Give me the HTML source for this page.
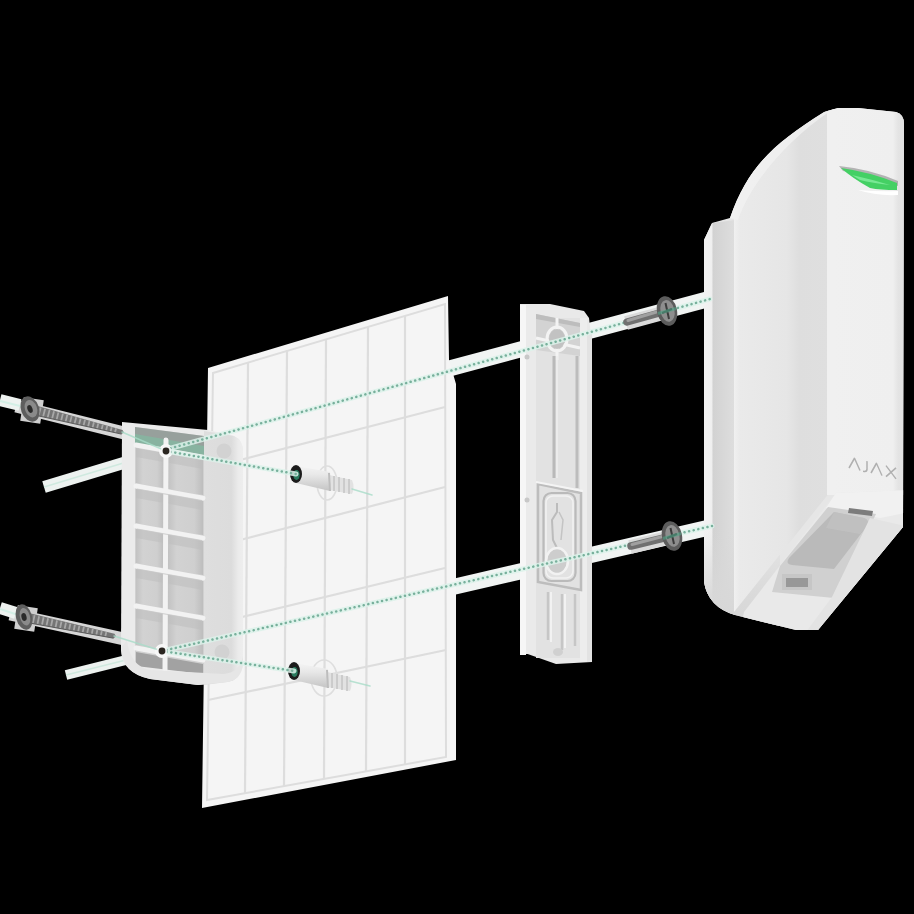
<!DOCTYPE html>
<html><head><meta charset="utf-8"><title>Mount</title>
<style>
html,body{margin:0;padding:0;background:#000;width:914px;height:914px;overflow:hidden;font-family:"Liberation Sans",sans-serif;}
svg{display:block}
</style></head>
<body>
<svg width="914" height="914" viewBox="0 0 914 914">
<defs>
  <linearGradient id="gSide" gradientUnits="userSpaceOnUse" x1="204" y1="0" x2="243" y2="0">
    <stop offset="0" stop-color="#dedede"/>
    <stop offset="0.7" stop-color="#dcdcdc"/>
    <stop offset="0.88" stop-color="#ebebeb"/>
    <stop offset="1" stop-color="#eeeeee"/>
  </linearGradient>
  <linearGradient id="gBody" gradientUnits="userSpaceOnUse" x1="734" y1="0" x2="830" y2="0">
    <stop offset="0" stop-color="#f0f0f0"/>
    <stop offset="0.06" stop-color="#eaeaea"/>
    <stop offset="0.55" stop-color="#e6e6e6"/>
    <stop offset="0.68" stop-color="#dedede"/>
    <stop offset="1" stop-color="#dfdfdf"/>
  </linearGradient>
  <linearGradient id="gFront" gradientUnits="userSpaceOnUse" x1="830" y1="0" x2="904" y2="0">
    <stop offset="0" stop-color="#f0f0f0"/>
    <stop offset="0.85" stop-color="#efefef"/>
    <stop offset="0.92" stop-color="#e4e4e4"/>
    <stop offset="1" stop-color="#e2e2e2"/>
  </linearGradient>
  <linearGradient id="gBack" gradientUnits="userSpaceOnUse" x1="704" y1="0" x2="735" y2="0">
    <stop offset="0" stop-color="#f2f2f2"/>
    <stop offset="0.24" stop-color="#f0f0f0"/>
    <stop offset="0.3" stop-color="#d2d2d2"/>
    <stop offset="1" stop-color="#dedede"/>
  </linearGradient>
  <linearGradient id="gCell" x1="0" y1="0" x2="1" y2="0">
    <stop offset="0" stop-color="#c2c2c2"/>
    <stop offset="0.25" stop-color="#d2d2d2"/>
    <stop offset="0.75" stop-color="#cfcfcf"/>
    <stop offset="1" stop-color="#bdbdbd"/>
  </linearGradient>
  <linearGradient id="gDowel" x1="0" y1="0" x2="0" y2="1">
    <stop offset="0" stop-color="#f4f4f4"/>
    <stop offset="0.35" stop-color="#e8e8e8"/>
    <stop offset="1" stop-color="#c4c4c4"/>
  </linearGradient>
  <linearGradient id="gBotL" x1="0" y1="0" x2="0" y2="1">
    <stop offset="0" stop-color="#d8d8d8" stop-opacity="0"/>
    <stop offset="0.6" stop-color="#d8d8d8" stop-opacity="0.9"/>
    <stop offset="1" stop-color="#d6d6d6" stop-opacity="1"/>
  </linearGradient>
  <linearGradient id="gScrew" x1="0" y1="0" x2="0" y2="1">
    <stop offset="0" stop-color="#9a9a9a"/>
    <stop offset="0.5" stop-color="#c8c8c8"/>
    <stop offset="1" stop-color="#707070"/>
  </linearGradient>
</defs>

<rect width="914" height="914" fill="#000"/>

<!-- ============ HALOS (behind) ============ -->
<g id="halos" stroke-linecap="butt" fill="none">
  <g stroke="#f1f4f3" stroke-width="16">
    <line x1="440" y1="371" x2="720" y2="296"/>
    <line x1="440" y1="590" x2="720" y2="525"/>
  </g>
  <g stroke="#dadada" stroke-width="14">
    <line x1="626" y1="323" x2="674" y2="310"/>
    <line x1="630" y1="547" x2="679" y2="535"/>
  </g>
  <g stroke="#d6d6d6" stroke-width="13">
    <line x1="16" y1="406" x2="128" y2="434"/>
    <line x1="10" y1="614" x2="124" y2="639"/>
  </g>
  <g stroke="#cfcfcf" stroke-width="24">
    <line x1="22" y1="409" x2="42" y2="412"/>
    <line x1="16" y1="617" x2="36" y2="620"/>
  </g>
  <g stroke="#eef2f0" stroke-width="12">
    <line x1="0" y1="400" x2="20" y2="405"/>
    <line x1="0" y1="608" x2="16" y2="613"/>
  </g>
  <g stroke="#d4efe6" stroke-width="2">
    <line x1="0" y1="401" x2="24" y2="407"/>
    <line x1="0" y1="609" x2="18" y2="615"/>
  </g>
  <g stroke="#edf2f0" stroke-width="12">
    <line x1="44" y1="487" x2="130" y2="461"/>
  </g>
  <g stroke="#edf2f0" stroke-width="10">
    <line x1="66" y1="675" x2="126" y2="660"/>
  </g>
  <g stroke="#cfe9df" stroke-width="1.5">
    <line x1="44" y1="487" x2="130" y2="461"/>
    <line x1="66" y1="675" x2="126" y2="660"/>
  </g>
</g>

<!-- ============ TILE PANEL ============ -->
<g id="tile">
  <polygon points="208,368 448,296 449,360 456,384 456,760 202,808" fill="#f5f5f5"/>
  <polygon points="213,373 445,304 446,757 207,800" fill="none" stroke="#dddddd" stroke-width="2"/>
  <g stroke="#dddddd" stroke-width="2.2" fill="none">
    <line x1="248" y1="362" x2="245" y2="793"/>
    <line x1="287" y1="350" x2="284" y2="786"/>
    <line x1="326" y1="339" x2="324" y2="779"/>
    <line x1="368" y1="327" x2="366" y2="771"/>
    <line x1="405" y1="316" x2="405" y2="764"/>
    <line x1="213" y1="467" x2="445" y2="407"/>
    <line x1="213" y1="547" x2="445" y2="487"/>
    <line x1="213" y1="624" x2="445" y2="568"/>
    <line x1="208" y1="700" x2="446" y2="650"/>
  </g>
</g>

<!-- ============ LEFT BRACKET ============ -->
<g id="bracket">
  <path d="M122,422 L208,430 L234,436 Q243,440 243,452 L243,664 Q241,680 227,682 L198,685 L150,679 Q122,673 121,650 Z" fill="#ebebeb"/>
  <!-- side face -->
  <path d="M204,431 L234,436 Q243,440 243,452 L243,664 Q241,680 227,682 L204,685 Z" fill="url(#gSide)"/>
  <!-- recess -->
  <path d="M135,427 L204,436 L204,674 L135,664 Z" fill="#d0d0d0"/>
  <path d="M135,427 L204,436 L204,460 L135,446 Z" fill="#97a09c"/>
  <path d="M135,434 L204,446 L204,456 L135,444 Z" fill="#7fbfa4" opacity="0.6"/>
  <path d="M136,448.0 L164,453.0 L164,488.0 L136,483.0 Z" fill="url(#gCell)"/>
  <path d="M136,448.0 L164,453.0 L164,462.0 L136,457.0 Z" fill="#bdbdbd" opacity="0.55"/>
  <path d="M168,453.8 L203,460.1 L203,495.1 L168,488.8 Z" fill="url(#gCell)"/>
  <path d="M168,453.8 L203,460.1 L203,469.1 L168,462.8 Z" fill="#bdbdbd" opacity="0.55"/>
  <path d="M136,489.0 L164,494.0 L164,528.0 L136,523.0 Z" fill="url(#gCell)"/>
  <path d="M136,489.0 L164,494.0 L164,503.0 L136,498.0 Z" fill="#bdbdbd" opacity="0.55"/>
  <path d="M168,494.8 L203,501.1 L203,535.1 L168,528.8 Z" fill="url(#gCell)"/>
  <path d="M168,494.8 L203,501.1 L203,510.1 L168,503.8 Z" fill="#bdbdbd" opacity="0.55"/>
  <path d="M136,529.0 L164,534.0 L164,568.0 L136,563.0 Z" fill="url(#gCell)"/>
  <path d="M136,529.0 L164,534.0 L164,543.0 L136,538.0 Z" fill="#bdbdbd" opacity="0.55"/>
  <path d="M168,534.8 L203,541.1 L203,575.1 L168,568.8 Z" fill="url(#gCell)"/>
  <path d="M168,534.8 L203,541.1 L203,550.1 L168,543.8 Z" fill="#bdbdbd" opacity="0.55"/>
  <path d="M136,569.0 L164,574.0 L164,608.0 L136,603.0 Z" fill="url(#gCell)"/>
  <path d="M136,569.0 L164,574.0 L164,583.0 L136,578.0 Z" fill="#bdbdbd" opacity="0.55"/>
  <path d="M168,574.8 L203,581.1 L203,615.1 L168,608.8 Z" fill="url(#gCell)"/>
  <path d="M168,574.8 L203,581.1 L203,590.1 L168,583.8 Z" fill="#bdbdbd" opacity="0.55"/>
  <path d="M136,609.0 L164,614.0 L164,650.0 L136,645.0 Z" fill="url(#gCell)"/>
  <path d="M136,609.0 L164,614.0 L164,623.0 L136,618.0 Z" fill="#bdbdbd" opacity="0.55"/>
  <path d="M168,614.8 L203,621.1 L203,657.1 L168,650.8 Z" fill="url(#gCell)"/>
  <path d="M168,614.8 L203,621.1 L203,630.1 L168,623.8 Z" fill="#bdbdbd" opacity="0.55"/>
  <path d="M136,652 L203,664 L203,674 L136,666 Z" fill="#a2a2a2"/>
  <g stroke="#f2f2f2" stroke-width="5" stroke-linecap="round" fill="none">
    <line x1="136" y1="445" x2="203" y2="457.1"/>
    <line x1="136" y1="486" x2="203" y2="498.1"/>
    <line x1="136" y1="526" x2="203" y2="538.1"/>
    <line x1="136" y1="566" x2="203" y2="578.1"/>
    <line x1="136" y1="606" x2="203" y2="618.1"/>
    <line x1="136" y1="648" x2="203" y2="660.1"/>
    <line x1="166" y1="440" x2="165" y2="670"/>
  </g>
  <g stroke="#c6c6c6" stroke-width="1.2" fill="none" opacity="0.7">
    <line x1="137" y1="489" x2="202" y2="500.7"/>
    <line x1="137" y1="529" x2="202" y2="540.7"/>
    <line x1="137" y1="569" x2="202" y2="580.7"/>
    <line x1="137" y1="609" x2="202" y2="620.7"/>
  </g>
  <path d="M121,648 Q122,673 150,679 L198,685 L227,682 Q241,680 243,664 L243,656 Q240,672 224,674 L150,670 Q130,666 127,640 Z" fill="#e6e6e6"/>
  <circle cx="166" cy="451" r="7" fill="#f8f8f8"/>
  <circle cx="166" cy="451" r="3.4" fill="#2a2520"/>
  <circle cx="162" cy="651" r="7" fill="#f8f8f8"/>
  <circle cx="162" cy="651" r="3.4" fill="#2a2520"/>
  <circle cx="224" cy="451" r="7.5" fill="#d2d2d2"/>
  <circle cx="222" cy="652" r="7.5" fill="#d2d2d2"/>
</g>

<!-- ============ MIDDLE PLATE ============ -->
<g id="plate">
  <path d="M520,304 L550,304 L584,311 L589,318 L592,344 L592,662 L556,664 L522,652 L520,640 Z" fill="#e9e9e9"/>
  <rect x="520" y="305" width="6" height="350" fill="#f6f6f6"/>
  <rect x="526" y="308" width="10" height="346" fill="#eaeaea"/>
  <rect x="536" y="318" width="44" height="340" fill="#e2e2e2"/>
  <rect x="580" y="318" width="7" height="344" fill="#ededed"/>
  <rect x="587" y="330" width="5" height="332" fill="#e3e3e3"/>
  <!-- top recess -->
  <path d="M536,314 L580,323 L580,356 L536,350 Z" fill="#d3d3d3"/>
  <path d="M536,314 L580,323 L580,327 L536,319 Z" fill="#bdbdbd"/>
  <g stroke="#f3f3f3" stroke-width="3" fill="none">
    <path d="M557,318 L557,360"/>
    <path d="M536,338 L580,348"/>
    <ellipse cx="557" cy="339" rx="10" ry="12"/>
  </g>
  <ellipse cx="557" cy="339" rx="8" ry="10" fill="#c2c2c2"/>
  <!-- grooves -->
  <g stroke-width="3" fill="none">
    <path d="M554,356 L554,478" stroke="#b9b9b9"/>
    <path d="M577,356 L577,488" stroke="#bcbcbc"/>
    <path d="M557,356 L557,478" stroke="#eeeeee" stroke-width="1.5"/>
  </g>
  <circle cx="527" cy="357" r="2.5" fill="#c8c8c8"/>
  <circle cx="527" cy="500" r="2.5" fill="#c8c8c8"/>
  <!-- lower frame -->
  <g fill="none">
    <path d="M538,484 L581,493 L581,590 L538,582 Z" stroke="#bdbdbd" stroke-width="2.5"/>
    <path d="M536,482 L583,491" stroke="#f4f4f4" stroke-width="2"/>
    <rect x="543.5" y="493" width="32" height="88" rx="8" stroke="#bababa" stroke-width="2.2"/>
    <rect x="546" y="496" width="27" height="82" rx="7" stroke="#f2f2f2" stroke-width="1.5"/>
    <path d="M557,503 L557,512 L552,520 L553,540 L557,548" stroke="#bcbcbc" stroke-width="2"/>
    <path d="M559,512 L563,520 L561,540" stroke="#c4c4c4" stroke-width="1.5"/>
  </g>
  <ellipse cx="557" cy="561" rx="10" ry="12" fill="#cdcdcd"/>
  <ellipse cx="557" cy="561" rx="11" ry="13" fill="none" stroke="#f2f2f2" stroke-width="2.5"/>
  <!-- bottom grooves -->
  <g stroke="#c6c6c6" stroke-width="2.5" fill="none">
    <path d="M548,592 L548,640"/>
    <path d="M562,594 L562,650"/>
    <path d="M575,594 L575,646"/>
  </g>
  <g stroke="#f2f2f2" stroke-width="2" fill="none">
    <path d="M551,592 L551,642"/>
    <path d="M565,594 L565,648"/>
  </g>
  <ellipse cx="558" cy="652" rx="5" ry="4" fill="#d0d0d0"/>
</g>

<!-- ============ DEVICE ============ -->
<clipPath id="devClip"><path d="M704,240 L712,223 L730,218 C747,169 771,145 824,112 L838,108 L858,108 L896,112 Q904,114 904,124 L903,527 L818,630 L796,630 L735,615 Q708,607 704,582 Z"/></clipPath>
<g id="device" clip-path="url(#devClip)">
  <rect x="700" y="100" width="210" height="540" fill="#e6e6e6"/>
  <!-- back plate strip -->
  <path d="M700,240 L712,223 L735,220 L735,640 L700,640 Z" fill="url(#gBack)"/>
  <rect x="700" y="530" width="80" height="110" fill="url(#gBotL)"/>
  <!-- main side body -->
  <path d="M730,218 C747,169 771,145 826,111 L830,100 L830,492 L734,612 L734,218 Z" fill="url(#gBody)"/>
  <path d="M728,218 C747,169 771,145 826,111 L829,112 C790,138 752,180 738,220 Z" fill="#f2f2f2" opacity="0.7"/>
  <!-- front face -->
  <path d="M830,100 L910,100 L910,495 L830,495 Z" fill="url(#gFront)"/>
  <rect x="827" y="100" width="8" height="395" fill="#f0f0f0"/>
  <!-- LED -->
  <path d="M839,166 Q870,169 898,181 L898,186 Q870,176 843,171 Z" fill="#6a6a6a" opacity="0.45"/>
  <path d="M841,168 Q870,172 897,183 L897,190 Q880,190 870,188 Q852,178 841,168 Z" fill="#44d064"/>
  <path d="M852,175 Q870,179 890,185 Q872,183 860,180 Z" fill="#86eea0" opacity="0.8"/>
  <path d="M858,190 Q880,192 898,191 L898,195 Q876,196 858,190 Z" fill="#ffffff"/>
  <!-- AJAX logo -->
  <g transform="translate(849,457) skewY(13)" fill="none" stroke="#b0b0b0" stroke-width="1.5" stroke-linejoin="round">
    <path d="M0,11 L5.5,0 L11,11"/>
    <path d="M18,0 L18,8 Q18,11 14,11"/>
    <path d="M22,11 L27.5,0 L33,11"/>
    <path d="M37,0 L47,11 M47,0 L37,11"/>
  </g>
  <!-- lower sloped base -->
  <path d="M738,640 L744,612 L836,493 L910,490 L910,640 Z" fill="#e9e9e9"/>
  <path d="M836,493 L910,490 L910,512 L880,518 L826,508 Z" fill="#f1f1f1"/>
  <path d="M828,507 L876,514 L834,598 L772,592 L780,566 Z" fill="#d0d0d0"/>
  <path d="M834,512 L864,518 Q870,520 867,526 L834,569 L792,565 Q785,564 789,558 Z" fill="#bababa"/>
  <path d="M834,512 L864,518 Q870,520 867,526 L860,534 L826,528 Z" fill="#c4c4c4" opacity="0.6"/>
  <path d="M849,508 L873,511 L872,516 L848,513 Z" fill="#7c7c7c"/>
  <rect x="782" y="574" width="30" height="16" fill="#c6c6c6"/>
  <rect x="786" y="578" width="22" height="9" fill="#989898"/>
  <path d="M870,518 L910,527 L910,640 L800,640 L832,597 Z" fill="#e3e3e3"/>
</g>

<!-- ============ SCREWS ============ -->
<g id="screws">
  <!-- upper left -->
  <g stroke-linecap="butt">
    <path d="M32.7,414.6 L121.5,434.1 L123.9,432.5 L122.5,429.9 L35.0,405.3 Z" fill="#747474"/>
    <path d="M38.7,415.4 L40.7,407.5 M43.2,416.4 L45.1,408.7 M47.7,417.4 L49.6,409.9 M52.2,418.4 L54.0,411.2 M56.7,419.4 L58.4,412.4 M61.2,420.4 L62.9,413.6 M65.7,421.4 L67.3,414.8 M70.1,422.4 L71.7,416.1 M74.6,423.4 L76.2,417.3 M79.1,424.4 L80.6,418.5 M83.6,425.4 L85.0,419.7 M88.1,426.4 L89.5,421.0 M92.6,427.4 L93.9,422.2 M97.1,428.4 L98.3,423.4 M101.6,429.5 L102.8,424.6 M106.1,430.5 L107.2,425.9 M110.6,431.5 L111.7,427.1 M115.0,432.5 L116.1,428.3" stroke="#a8a8a8" stroke-width="1.8"/>
    <path d="M34.7,415.1 L121.5,434.1" stroke="#5a5a5a" stroke-width="1"/>
    <ellipse cx="30" cy="409" rx="9" ry="13" transform="rotate(-20 30 409)" fill="#5e5e5e"/>
    <ellipse cx="31" cy="409" rx="6" ry="9" transform="rotate(-20 30 409)" fill="#8a8a8a"/>
    <ellipse cx="30" cy="409" rx="2.5" ry="4" transform="rotate(-20 30 409)" fill="#2a2a2a"/>
  </g>
  <!-- lower left -->
  <g stroke-linecap="butt">
    <path d="M26.9,622.5 L113.5,638.2 L116.0,636.4 L114.5,633.8 L28.9,613.1 Z" fill="#747474"/>
    <path d="M32.9,623.0 L34.6,615.1 M37.5,623.9 L39.1,616.2 M42.0,624.7 L43.6,617.2 M46.5,625.6 L48.1,618.3 M51.0,626.4 L52.5,619.3 M55.6,627.2 L57.0,620.4 M60.1,628.1 L61.5,621.5 M64.6,628.9 L66.0,622.5 M69.1,629.7 L70.4,623.6 M73.7,630.6 L74.9,624.7 M78.2,631.4 L79.4,625.7 M82.7,632.2 L83.9,626.8 M87.2,633.1 L88.3,627.9 M91.8,633.9 L92.8,628.9 M96.3,634.7 L97.3,630.0 M100.8,635.6 L101.8,631.1 M105.3,636.4 L106.3,632.1" stroke="#a8a8a8" stroke-width="1.8"/>
    <path d="M28.9,622.9 L113.5,638.2" stroke="#5a5a5a" stroke-width="1"/>
    <ellipse cx="24" cy="617" rx="8" ry="13" transform="rotate(-15 24 617)" fill="#5e5e5e"/>
    <ellipse cx="25" cy="617" rx="5" ry="9" transform="rotate(-15 24 617)" fill="#8a8a8a"/>
    <ellipse cx="24" cy="617" rx="2.5" ry="4" transform="rotate(-15 24 617)" fill="#2a2a2a"/>
  </g>
  <!-- dowels -->
  <g>
    <ellipse cx="327" cy="483" rx="10" ry="17" fill="none" stroke="#dedede" stroke-width="1.6"/>
    <path d="M296,466 L330,472 L330,491 L296,483 Z" fill="url(#gDowel)"/>
    <path d="M329,475 L352,480 Q355,487 352,494 L329,490 Z" fill="#e2e2e2"/>
    <path d="M334,476 L334,491 M339,477 L339,492 M344,478 L344,493 M349,479 L349,494" stroke="#c6c6c6" stroke-width="1.6"/>
    <path d="M329,473 L330,491" stroke="#bdbdbd" stroke-width="2"/>
    <ellipse cx="296" cy="474" rx="6" ry="9" fill="#1c1c1c"/>
    <ellipse cx="296.5" cy="475" rx="3.2" ry="5" fill="#2a7a5e"/>
  </g>
  <g>
    <ellipse cx="324" cy="678" rx="13" ry="18" fill="none" stroke="#dedede" stroke-width="1.6"/>
    <path d="M294,663 L328,669 L328,688 L294,680 Z" fill="url(#gDowel)"/>
    <path d="M327,672 L350,677 Q353,684 350,691 L327,687 Z" fill="#e2e2e2"/>
    <path d="M332,673 L332,688 M337,674 L337,689 M342,675 L342,690 M347,676 L347,691" stroke="#c6c6c6" stroke-width="1.6"/>
    <path d="M327,670 L328,688" stroke="#bdbdbd" stroke-width="2"/>
    <ellipse cx="294" cy="671" rx="6" ry="9" fill="#1c1c1c"/>
    <ellipse cx="294.5" cy="672" rx="3.2" ry="5" fill="#2a7a5e"/>
  </g>
</g>

<!-- ============ GREEN DOTTED LINES ============ -->
<g id="lines" fill="none" stroke-linecap="round">
  <g stroke="#dcf2ea" stroke-width="5" opacity="0.85">
    <line x1="166" y1="449.5" x2="710" y2="299"/>
    <line x1="162" y1="651" x2="712" y2="526"/>
    <line x1="166" y1="451" x2="296" y2="474"/>
    <line x1="162" y1="651" x2="294" y2="671"/>
  </g>
  <g stroke="#78b09c" stroke-width="2.5" stroke-dasharray="0.1 4.6">
    <line x1="166" y1="449.5" x2="710" y2="299"/>
    <line x1="162" y1="651" x2="712" y2="526"/>
    <line x1="166" y1="451" x2="296" y2="474"/>
    <line x1="162" y1="651" x2="294" y2="671"/>
  </g>
  <g stroke="#a8dcc8" stroke-width="1.5" opacity="0.8">
    <line x1="122" y1="432" x2="166" y2="451"/>
    <line x1="114" y1="636" x2="162" y2="651"/>
    <line x1="352" y1="489" x2="372" y2="495"/>
    <line x1="350" y1="681" x2="370" y2="686"/>
  </g>
</g>

<!-- ============ RIGHT SCREWS ============ -->
<g id="rscrews">
  <g>
    <line x1="627" y1="322" x2="663" y2="312" stroke="#707070" stroke-width="7.5" stroke-linecap="round"/>
    <line x1="628" y1="320.5" x2="663" y2="310" stroke="#a0a0a0" stroke-width="3" stroke-linecap="round"/>
    <ellipse cx="667" cy="311" rx="10" ry="15" transform="rotate(-12 667 311)" fill="#5c5c5c"/>
    <ellipse cx="667.5" cy="311" rx="7" ry="11" transform="rotate(-12 667 311)" fill="#8e8e8e"/>
    <path d="M665.5,303 L669,319 M662,313 L672,309" stroke="#3c3c3c" stroke-width="2"/>
    <line x1="658" y1="313.5" x2="676" y2="308.5" stroke="#4fa587" stroke-width="3" opacity="0.6"/>
  </g>
  <g>
    <line x1="631" y1="546" x2="668" y2="537" stroke="#707070" stroke-width="7.5" stroke-linecap="round"/>
    <line x1="632" y1="544.5" x2="668" y2="535" stroke="#a0a0a0" stroke-width="3" stroke-linecap="round"/>
    <ellipse cx="672" cy="536" rx="10" ry="15" transform="rotate(-12 672 536)" fill="#5c5c5c"/>
    <ellipse cx="672.5" cy="536" rx="7" ry="11" transform="rotate(-12 672 536)" fill="#8e8e8e"/>
    <path d="M670.5,528 L674,544 M667,538 L677,534" stroke="#3c3c3c" stroke-width="2"/>
    <line x1="663" y1="538.5" x2="681" y2="533.5" stroke="#4fa587" stroke-width="3" opacity="0.6"/>
  </g>
</g>

<!-- holes on top -->
<g>
  <circle cx="166" cy="451" r="5.5" fill="#f6f6f6" opacity="0.9"/>
  <circle cx="166" cy="451" r="3.4" fill="#2a2520"/>
  <circle cx="162" cy="651" r="5.5" fill="#f6f6f6" opacity="0.9"/>
  <circle cx="162" cy="651" r="3.4" fill="#2a2520"/>
</g>
</svg>
</body></html>
